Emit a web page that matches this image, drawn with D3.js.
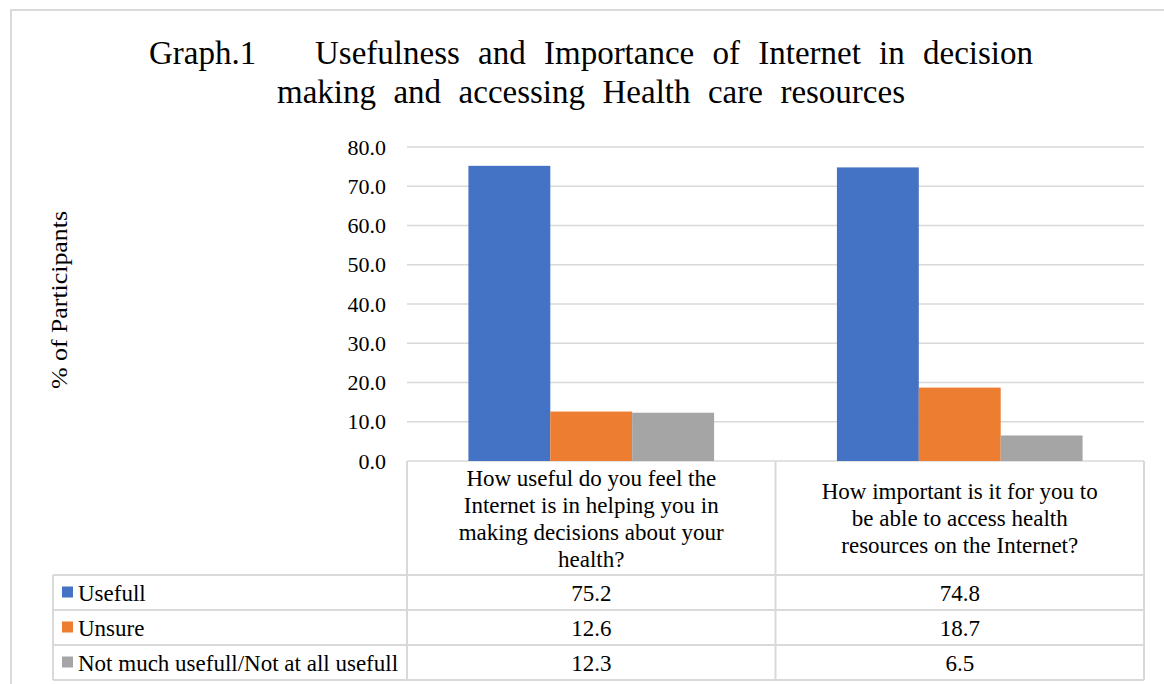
<!DOCTYPE html>
<html>
<head>
<meta charset="utf-8">
<script src="https://cdn.jsdelivr.net/npm/d3@7/dist/d3.min.js"></script>
<style>
  html, body { margin: 0; padding: 0; background: #fff; }
  svg { display: block; }
  text { font-family: "Liberation Serif", "Times New Roman", serif; fill: #000; }
</style>
</head>
<body>
<svg id="chart" width="1164" height="684"></svg>
<script>
// ---- data ----
const categories = [
  "How useful do you feel the\nInternet is in helping you in\nmaking decisions about your\nhealth?",
  "How important is it for you to\nbe able to access health\nresources on the Internet?"
];
const seriesNames = ["Usefull", "Unsure", "Not much usefull/Not at all usefull"];
const usefull = [75.2, 74.8];
const unsure = [12.6, 18.7];
const notUseful = [12.3, 6.5];
const yTicks = [0, 10, 20, 30, 40, 50, 60, 70, 80];
const titleLine1a = "Graph.1";
const titleLine1b = "Usefulness and Importance of Internet in decision";
const titleLine2 = "making and accessing Health care resources";
const yLabel = "% of Participants";

const seriesValues = [usefull, unsure, notUseful];
const colors = ["#4472C4", "#ED7D31", "#A5A5A5"];
const gridColor = "#D9D9D9";
const fs = 23;

const svg = d3.select("#chart");

// outer border (right and bottom edges lie outside the picture)
svg.append("rect").attr("x", 11).attr("y", 10).attr("width", 1170).attr("height", 700)
  .attr("fill", "none").attr("stroke", gridColor).attr("stroke-width", 2);

// layout
const plotLeft = 407, plotRight = 1144, plotTop = 147, plotBottom = 461;
const tableLeft = 53;
const rowBounds = [575, 610, 645, 680];

const x0 = d3.scaleBand().domain(d3.range(categories.length)).range([plotLeft, plotRight]).padding(0);
const x1 = d3.scaleBand().domain(d3.range(seriesNames.length))
  .range([0, x0.bandwidth()]).paddingInner(0).paddingOuter(0.75);
const y = d3.scaleLinear().domain([0, 80]).range([plotBottom, plotTop]);

// gridlines
svg.append("g").selectAll("line").data(yTicks).join("line")
  .attr("x1", plotLeft).attr("x2", plotRight)
  .attr("y1", d => y(d)).attr("y2", d => y(d))
  .attr("stroke", gridColor).attr("stroke-width", 1.5);

// y axis
const yAxis = d3.axisLeft(y).tickValues(yTicks).tickFormat(d3.format(".1f")).tickSize(0).tickPadding(21);
const yg = svg.append("g").attr("transform", `translate(${plotLeft},0)`).call(yAxis);
yg.select(".domain").remove();
yg.attr("font-family", null).attr("font-size", null);
yg.selectAll("text").attr("font-size", 22).attr("fill", "#000");

// bars
const groups = svg.append("g").selectAll("g").data(categories).join("g")
  .attr("transform", (d, i) => `translate(${x0(i)},0)`);
groups.selectAll("rect").data((d, i) => seriesValues.map((s, k) => ({k, v: s[i]}))).join("rect")
  .attr("x", d => x1(d.k)).attr("width", x1.bandwidth())
  .attr("y", d => y(d.v)).attr("height", d => y(0) - y(d.v))
  .attr("fill", d => colors[d.k]);

// y label
svg.append("text").attr("transform", `translate(67,${(plotTop + plotBottom) / 2 - 4}) rotate(-90)`)
  .attr("text-anchor", "middle").attr("font-size", 23)
  .attr("textLength", 178).attr("lengthAdjust", "spacingAndGlyphs").text(yLabel);

// table lines
const tl = svg.append("g").attr("stroke", gridColor).attr("stroke-width", 2);
rowBounds.forEach(yy => tl.append("line").attr("x1", tableLeft).attr("x2", plotRight).attr("y1", yy).attr("y2", yy));
tl.append("line").attr("x1", tableLeft).attr("x2", tableLeft).attr("y1", rowBounds[0]).attr("y2", rowBounds[3]);
const colEdges = [plotLeft, ...categories.map((c, i) => x0(i) + x0.bandwidth())];
colEdges.forEach(xx => tl.append("line").attr("x1", xx).attr("x2", xx).attr("y1", plotBottom).attr("y2", rowBounds[3]));

// category headers
const lineH = 27;
categories.forEach((c, i) => {
  const lines = c.split("\n");
  const cx = x0(i) + x0.bandwidth() / 2;
  const cy = (plotBottom + rowBounds[0]) / 2;
  const t = svg.append("text").attr("text-anchor", "middle").attr("font-size", fs);
  lines.forEach((ln, j) => {
    t.append("tspan").attr("x", cx)
      .attr("y", cy + (j - (lines.length - 1) / 2) * lineH + 8).text(ln);
  });
});

// legend rows + values
seriesNames.forEach((name, k) => {
  const cy = (rowBounds[k] + rowBounds[k + 1]) / 2;
  svg.append("rect").attr("x", 62).attr("y", cy - 6).attr("width", 11).attr("height", 11).attr("fill", colors[k]);
  svg.append("text").attr("x", 78).attr("y", cy + 8).attr("font-size", fs).text(name);
  seriesValues[k].forEach((v, i) => {
    svg.append("text").attr("x", x0(i) + x0.bandwidth() / 2).attr("y", cy + 8)
      .attr("text-anchor", "middle").attr("font-size", fs).text(d3.format(".1f")(v));
  });
});

// title
svg.append("text").attr("x", 149).attr("y", 64).attr("font-size", 33).text(titleLine1a);
function fitText(txt, x1s, x2s, yy) {
  const t = svg.append("text").attr("x", x1s).attr("y", yy).attr("font-size", 33).text(txt);
  const w = t.node().getComputedTextLength();
  const gaps = txt.split(" ").length - 1;
  if (gaps > 0) t.attr("word-spacing", ((x2s - x1s) - w) / gaps);
}
fitText(titleLine1b, 315, 1033, 64);
fitText(titleLine2, 277, 905, 103);
</script>
</body>
</html>
